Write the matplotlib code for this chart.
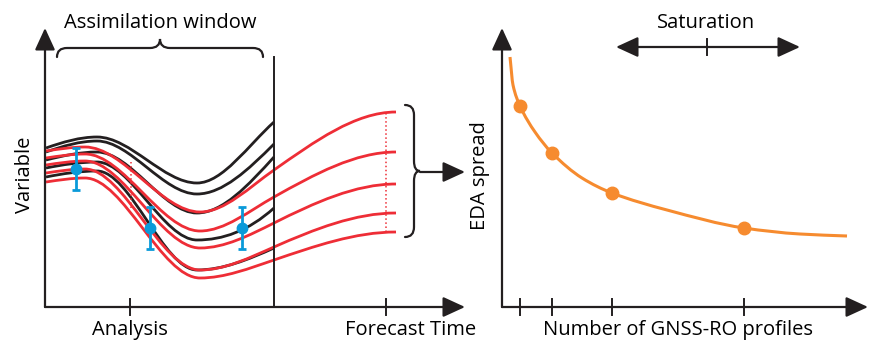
import matplotlib
matplotlib.use("Agg")
import matplotlib.pyplot as plt
from matplotlib.path import Path
from matplotlib.patches import PathPatch
import numpy as np

plt.rcParams["font.family"] = ["Open Sans", "DejaVu Sans"]

# ── schematic data (left panel units: px from axis corner, y up) ─────────
black_x = [1, 52, 152, 229]
black_y = [
    [159, 170, 124, 185],
    [155, 166, 113, 163],
    [147, 155, 94, 150],
    [139, 145, 67, 99],
    [130, 136, 37, 59],
]
black_slope = [
    [0.35, 0, 0, 0.9],
    [0.35, 0, 0, 1.0],
    [0.25, 0, 0, 1.1],
    [0.2, 0, 0, 0.9],
    [0.2, 0, 0, 0.45],
]

red_x = [1, 40, 155, 229, 351]
red_y = [
    [156, 160, 95, 137, 195],
    [149, 153, 76, 110, 155],
    [142, 146, 59, 84, 123],
    [134, 138, 37, 60, 94],
    [125, 129, 29, 47, 75],
]
red_slope = [
    [0.15, 0, 0, 0.7, 0],
    [0.15, 0, 0, 0.56, 0],
    [0.15, 0, 0, 0.5, 0],
    [0.15, 0, 0, 0.44, 0],
    [0.15, 0, 0, 0.34, 0],
]

obs_x = [31, 105, 197]
obs_y = [138, 79, 79]
obs_err = [21, 21, 21]

time_ticks = [85, 341]
time_labels = ["Analysis", "Forecast Time"]
window_end = 229

# right panel: EDA spread vs number of GNSS-RO profiles
spread_x = [8, 11, 18, 33, 50, 80, 110, 165, 242, 298, 345]
spread_y = [250, 222, 201, 175, 154, 129, 114, 97, 79, 73, 71]
exp_x = [18, 50, 110, 242]
exp_y = [201, 154, 114, 79]

BLACK = "#231f20"
RED = "#ee2d36"
BLUE = "#0a9ad9"
ORANGE = "#f68b2f"
FS = 14.5


def hermite_path(xs, ys, slopes):
    verts = [(xs[0], ys[0])]
    codes = [Path.MOVETO]
    for i in range(len(xs) - 1):
        dx = xs[i + 1] - xs[i]
        verts += [(xs[i] + dx / 3, ys[i] + slopes[i] * dx / 3),
                  (xs[i + 1] - dx / 3, ys[i + 1] - slopes[i + 1] * dx / 3),
                  (xs[i + 1], ys[i + 1])]
        codes += [Path.CURVE4] * 3
    return Path(verts, codes)


def fc_slopes(xs, ys):
    # Fritsch-Carlson style slopes for a monotone curve
    x, y = np.asarray(xs, float), np.asarray(ys, float)
    d = np.diff(y) / np.diff(x)
    m = np.empty_like(x)
    m[0], m[-1] = d[0], d[-1]
    m[1:-1] = 2 / (1 / d[:-1] + 1 / d[1:])
    return m


def brace(ax, p0, p1, d1, d2, r, color=BLACK, lw=1.6):
    p0, p1 = np.array(p0, float), np.array(p1, float)
    L = np.linalg.norm(p1 - p0)
    e = (p1 - p0) / L
    n = np.array([-e[1], e[0]])
    h = L / 2
    uv = [(0, 0), (0, d1), (r, d1), (h - r, d1), (h, d1), (h, d1 + d2),
          (h, d1), (h + r, d1), (L - r, d1), (L, d1), (L, 0)]
    codes = [Path.MOVETO, Path.CURVE3, Path.CURVE3, Path.LINETO,
             Path.CURVE3, Path.CURVE3, Path.CURVE3, Path.CURVE3,
             Path.LINETO, Path.CURVE3, Path.CURVE3]
    verts = [p0 + u * e + v * n for u, v in uv]
    ax.add_patch(PathPatch(Path(verts, codes), fc="none", ec=color, lw=lw,
                           capstyle="round", clip_on=False))


def arrow(ax, start, tip, style="-|>", lw=1.6):
    ax.annotate("", xy=tip, xytext=start,
                arrowprops=dict(arrowstyle=f"{style},head_length=1.35,head_width=0.62",
                                mutation_scale=10, lw=lw, color=BLACK,
                                shrinkA=0, shrinkB=0), annotation_clip=False)


fig = plt.figure(figsize=(8.7, 3.42), dpi=100)
ax = fig.add_axes([0, 0, 475 / 870, 1])
ax.set_xlim(-45, 430)
ax.set_ylim(-35, 307)
ax.axis("off")

# ── left panel: ensemble trajectories ────────────────────────────────────
for ys, sl in zip(black_y, black_slope):
    ax.add_patch(PathPatch(hermite_path(black_x, ys, sl), fc="none",
                           ec=BLACK, lw=2.0, capstyle="butt"))
for ys, sl in zip(red_y, red_slope):
    ax.add_patch(PathPatch(hermite_path(red_x, ys, sl), fc="none",
                           ec=RED, lw=2.0, capstyle="butt"))

ax.plot([red_x[-1] - 10] * 2, [red_y[-1][-1], red_y[0][-1]], ":", color=RED, lw=1.1)
ax.plot([time_ticks[0] + 1] * 2, [99, 145], ":", color=RED, lw=1.1)

ax.errorbar(obs_x, obs_y, yerr=obs_err, fmt="o", color=BLUE, ms=7.5,
            elinewidth=2.0, capsize=3, capthick=2.0, zorder=5)

ax.plot([window_end, window_end], [0, 250], color=BLACK, lw=1.4)

arrow(ax, (0, 0), (0, 279))
arrow(ax, (0, 0), (420, 0))
for t, lab in zip(time_ticks, time_labels):
    ax.plot([t, t], [-8, 8], color=BLACK, lw=1.4)
ax.text(time_ticks[0], -23, time_labels[0], ha="center", va="center", fontsize=FS)
ax.text(366, -23, time_labels[1], ha="center", va="center", fontsize=FS)
ax.text(-20, 132, "Variable", ha="center", va="center", rotation=90, fontsize=FS)

brace(ax, (12, 250), (218, 250), 9, 9, 10)
ax.text(115, 284, "Assimilation window", ha="center", va="center", fontsize=FS)

brace(ax, (360, 202), (360, 70), 9, 6, 10)
arrow(ax, (375, 135), (420, 135))

# ── right panel: EDA spread saturation ───────────────────────────────────
bx = fig.add_axes([475 / 870, 0, 395 / 870, 1])
bx.set_xlim(-27, 368)
bx.set_ylim(-35, 307)
bx.axis("off")

bx.add_patch(PathPatch(hermite_path(spread_x, spread_y, fc_slopes(spread_x, spread_y)),
                       fc="none", ec=ORANGE, lw=2.2))
bx.plot(exp_x, exp_y, "o", color=ORANGE, ms=9, zorder=5)

arrow(bx, (0, 0), (0, 279))
arrow(bx, (0, 0), (366, 0))
for t in exp_x:
    bx.plot([t, t], [-8, 8], color=BLACK, lw=1.4)

arrow(bx, (114, 260), (298, 260), style="<|-|>")
bx.plot([205, 205], [252, 268], color=BLACK, lw=1.4)
bx.text(204, 284, "Saturation", ha="center", va="center", fontsize=FS)
bx.text(-22, 131, "EDA spread", ha="center", va="center", rotation=90, fontsize=FS)
bx.text(176, -23, "Number of GNSS-RO profiles", ha="center", va="center", fontsize=FS)

fig.savefig("out.png", dpi=100)
